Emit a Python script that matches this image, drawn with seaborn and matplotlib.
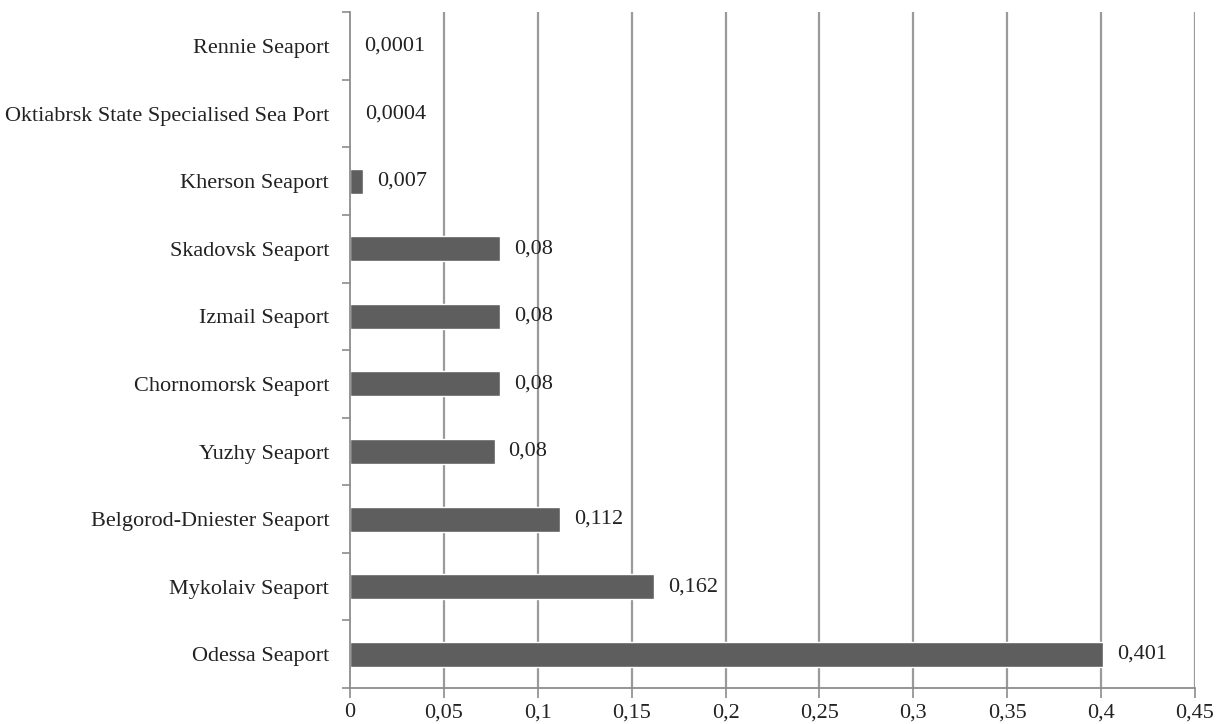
import matplotlib
matplotlib.use("Agg")
import matplotlib.pyplot as plt
import seaborn as sns
import pandas as pd
import numpy as np
from matplotlib.ticker import FixedLocator

ports = ["Rennie Seaport", "Oktiabrsk State Specialised Sea Port", "Kherson Seaport",
         "Skadovsk Seaport", "Izmail Seaport", "Chornomorsk Seaport", "Yuzhy Seaport",
         "Belgorod-Dniester Seaport", "Mykolaiv Seaport", "Odessa Seaport"]
values = [0.0001, 0.0004, 0.007, 0.08, 0.08, 0.08, 0.077, 0.112, 0.162, 0.401]
value_labels = ["0,0001", "0,0004", "0,007", "0,08", "0,08", "0,08", "0,08", "0,112", "0,162", "0,401"]
x_ticks = [0, 0.05, 0.1, 0.15, 0.2, 0.25, 0.3, 0.35, 0.4, 0.45]
x_tick_labels = ["0", "0,05", "0,1", "0,15", "0,2", "0,25", "0,3", "0,35", "0,4", "0,45"]

df = pd.DataFrame({"port": ports, "value": values})

sns.set_style("white")
plt.rcParams["font.family"] = ["Liberation Serif", "DejaVu Serif"]

fig = plt.figure(figsize=(12.23, 7.24), dpi=100)
ax = fig.add_axes([0.2862, 0.0497, 0.9771 - 0.2862, 0.983 - 0.0497])

sns.barplot(data=df, y="port", x="value", orient="h", color="#5e5e5e",
            width=0.37, ax=ax, zorder=2, saturation=1)

ax.set_xlim(0, 0.45)
ax.set_ylim(len(ports) - 0.5, -0.5)
ax.xaxis.set_major_locator(FixedLocator(x_ticks))
ax.set_xticklabels(x_tick_labels, fontsize=16, color="#222222")
ax.set_xlabel("")
ax.set_ylabel("")
ax.tick_params(left=True, bottom=True, which="both")
ax.tick_params(axis="y", which="major", length=0, labelsize=16, pad=15, labelcolor="#222222")
ax.yaxis.set_minor_locator(FixedLocator(np.arange(-0.5, len(ports), 1.0)))
ax.tick_params(axis="y", which="minor", length=6, width=1.2, color="#8c8c8c", direction="out")
ax.tick_params(axis="x", which="major", length=7, width=1.2, color="#8c8c8c", direction="out", pad=4)

for x in x_ticks[1:]:
    ax.axvline(x, color="#9a9a9a", lw=1.6, zorder=1)

for s in ["top", "right"]:
    ax.spines[s].set_visible(False)
for s in ["left", "bottom"]:
    ax.spines[s].set_color("#8c8c8c")
    ax.spines[s].set_linewidth(1.3)

ax.bar_label(ax.containers[0], labels=value_labels, padding=10, fontsize=16, color="#222222")

fig.savefig("out.png", dpi=100, facecolor="white")
